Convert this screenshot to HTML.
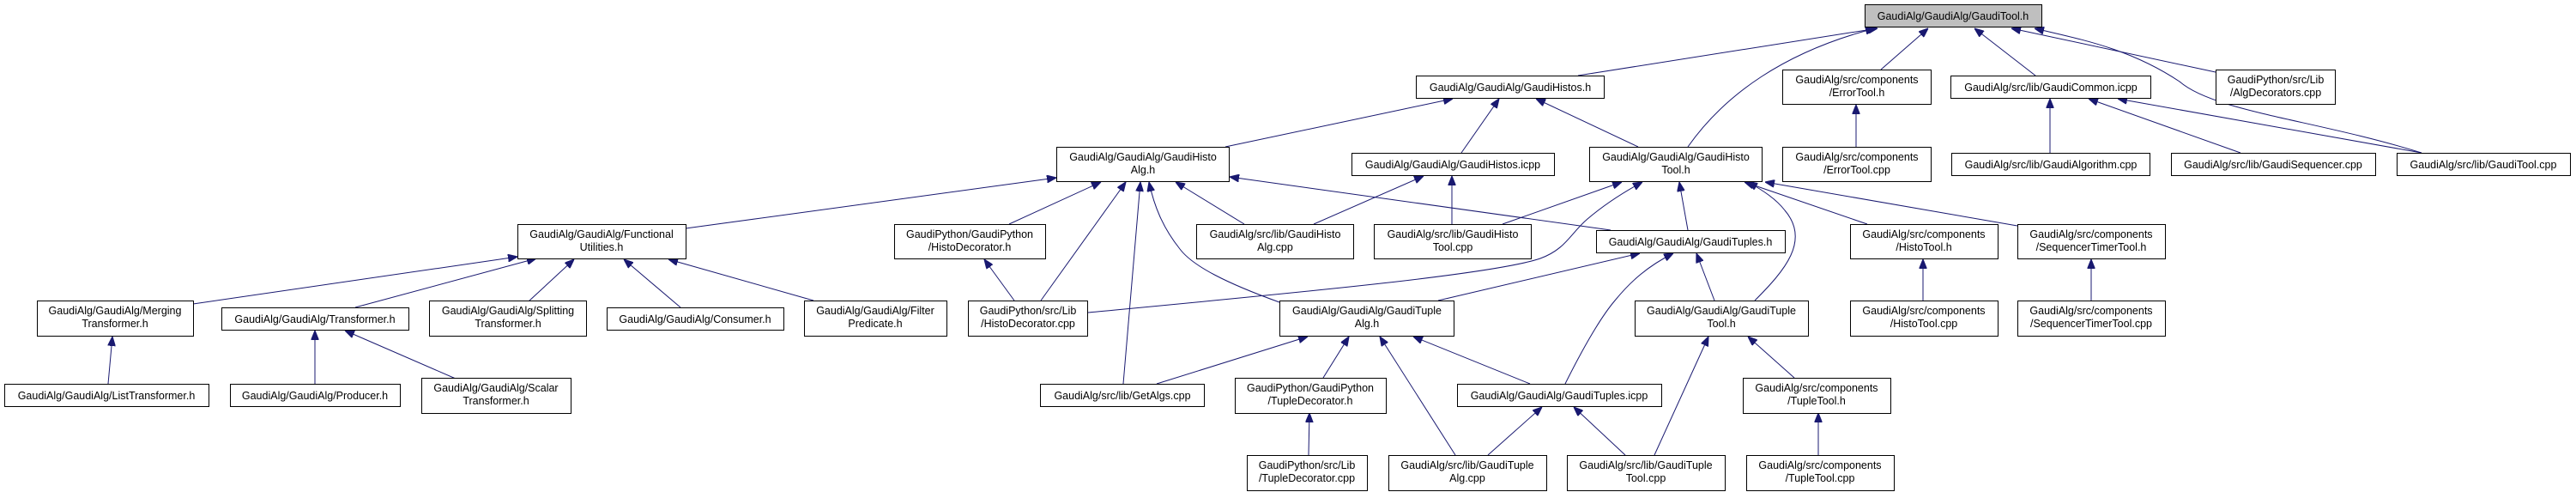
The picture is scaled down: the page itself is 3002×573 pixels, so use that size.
<!DOCTYPE html>
<html><head><meta charset="utf-8"><style>html,body{margin:0;padding:0;background:#fff}svg{display:block}</style></head>
<body>
<svg width="3002" height="573" viewBox="0 0 3002 573" xmlns="http://www.w3.org/2000/svg" font-family="Liberation Sans, sans-serif" font-size="12.5">
<defs><marker id="a" viewBox="0 0 10 8" refX="10" refY="4" markerWidth="11" markerHeight="9" orient="auto" markerUnits="userSpaceOnUse"><path d="M0,0 L10,4 L0,8 z" fill="#191970" stroke="#191970"/></marker></defs>
<g fill="none" stroke="#191970" stroke-width="1" marker-end="url(#a)">
<path d="M1839,88 L2188,33"/>
<path d="M1967,171 C2010,110 2080,60 2185,33"/>
<path d="M2192,81 L2247,33"/>
<path d="M2372,88 L2301,33"/>
<path d="M2582,84 L2344,33"/>
<path d="M2822,178 C2700,140 2580,130 2540,95 C2480,55 2420,45 2371,33"/>
<path d="M1428,171 L1693,115"/>
<path d="M1703,178 L1747,115"/>
<path d="M1909,171 L1790,115"/>
<path d="M2163,171 L2163,122"/>
<path d="M2389,178 L2389,115"/>
<path d="M2611,178 L2434,115"/>
<path d="M2822,178 L2468,115"/>
<path d="M799,266 L1231,207"/>
<path d="M1176,261 L1283,212"/>
<path d="M1213,350 L1312,212"/>
<path d="M1309,447 L1329,212"/>
<path d="M1491,352 C1430,330 1390,310 1375,290 C1355,265 1345,240 1339,212"/>
<path d="M1450,261 L1370,212"/>
<path d="M1877,268 L1433,206"/>
<path d="M1531,261 L1659,205"/>
<path d="M1692,261 L1692,205"/>
<path d="M1751,261 L1890,212"/>
<path d="M1268,364 C1500,342 1740,320 1795,301 C1825,290 1830,272 1850,255 C1870,238 1890,225 1914,212"/>
<path d="M1967,268 L1957,212"/>
<path d="M2045,350 C2080,315 2110,280 2080,245 C2070,232 2055,222 2037,212"/>
<path d="M2176,261 L2033,212"/>
<path d="M2351,263 L2057,212"/>
<path d="M225,354 L603,299"/>
<path d="M414,358 L625,301"/>
<path d="M616,351 L669,302"/>
<path d="M793,358 L727,302"/>
<path d="M948,350 L779,302"/>
<path d="M126,447 L131,392"/>
<path d="M367,447 L367,385"/>
<path d="M531,441 L402,385"/>
<path d="M1182,350 L1147,302"/>
<path d="M1676,350 L1911,295"/>
<path d="M1824,447 C1845,405 1865,370 1882,350 C1900,328 1920,310 1950,295"/>
<path d="M1998,350 L1977,295"/>
<path d="M2241,350 L2241,302"/>
<path d="M2437,350 L2437,302"/>
<path d="M1348,447 L1524,392"/>
<path d="M1542,440 L1572,392"/>
<path d="M1696,530 L1608,392"/>
<path d="M1783,447 L1647,392"/>
<path d="M1928,530 L1991,392"/>
<path d="M2091,440 L2037,392"/>
<path d="M1525,530 L1526,481"/>
<path d="M1734,530 L1797,474"/>
<path d="M1894,530 L1834,474"/>
<path d="M2119,530 L2119,481"/>
</g>
<g stroke="#000" stroke-width="1" fill="#fff">
<rect x="2173.5" y="5.5" width="206" height="26" fill="#bfbfbf"/>
<rect x="1650.5" y="88.5" width="219" height="26"/>
<rect x="2077.5" y="81.5" width="173" height="40"/>
<rect x="2273.5" y="88.5" width="233" height="26"/>
<rect x="2582.5" y="81.5" width="139" height="40"/>
<rect x="1231.5" y="171.5" width="201" height="40"/>
<rect x="1575.5" y="178.5" width="236" height="26"/>
<rect x="1852.5" y="171.5" width="201" height="40"/>
<rect x="2077.5" y="171.5" width="173" height="40"/>
<rect x="2274.5" y="178.5" width="231" height="26"/>
<rect x="2530.5" y="178.5" width="238" height="26"/>
<rect x="2793.5" y="178.5" width="202" height="26"/>
<rect x="603.5" y="261.5" width="196" height="40"/>
<rect x="1042.5" y="261.5" width="176" height="40"/>
<rect x="1394.5" y="261.5" width="183" height="40"/>
<rect x="1601.5" y="261.5" width="183" height="40"/>
<rect x="1860.5" y="268.5" width="220" height="26"/>
<rect x="2156.5" y="261.5" width="172" height="40"/>
<rect x="2351.5" y="261.5" width="172" height="40"/>
<rect x="43.5" y="350.5" width="182" height="41"/>
<rect x="258.5" y="358.5" width="218" height="26"/>
<rect x="500.5" y="350.5" width="183" height="41"/>
<rect x="707.5" y="358.5" width="206" height="26"/>
<rect x="937.5" y="350.5" width="166" height="41"/>
<rect x="1128.5" y="350.5" width="139" height="41"/>
<rect x="1491.5" y="350.5" width="203" height="41"/>
<rect x="1905.5" y="350.5" width="202" height="41"/>
<rect x="2156.5" y="350.5" width="172" height="41"/>
<rect x="2351.5" y="350.5" width="172" height="41"/>
<rect x="5.5" y="447.5" width="238" height="26"/>
<rect x="268.5" y="447.5" width="198" height="26"/>
<rect x="491.5" y="440.5" width="174" height="41"/>
<rect x="1212.5" y="447.5" width="191" height="26"/>
<rect x="1439.5" y="440.5" width="176" height="41"/>
<rect x="1698.5" y="447.5" width="238" height="26"/>
<rect x="2031.5" y="440.5" width="172" height="41"/>
<rect x="1453.5" y="530.5" width="140" height="41"/>
<rect x="1618.5" y="530.5" width="184" height="41"/>
<rect x="1826.5" y="530.5" width="184" height="41"/>
<rect x="2035.5" y="530.5" width="172" height="41"/>
</g>
<g fill="#000" text-anchor="middle">
<text x="2276" y="23">GaudiAlg/GaudiAlg/GaudiTool.h</text>
<text x="1760" y="106">GaudiAlg/GaudiAlg/GaudiHistos.h</text>
<text x="2164" y="97">GaudiAlg/src/components</text><text x="2164" y="112">/ErrorTool.h</text>
<text x="2390" y="106">GaudiAlg/src/lib/GaudiCommon.icpp</text>
<text x="2652" y="97">GaudiPython/src/Lib</text><text x="2652" y="112">/AlgDecorators.cpp</text>
<text x="1332" y="187">GaudiAlg/GaudiAlg/GaudiHisto</text><text x="1332" y="202">Alg.h</text>
<text x="1693" y="196">GaudiAlg/GaudiAlg/GaudiHistos.icpp</text>
<text x="1953" y="187">GaudiAlg/GaudiAlg/GaudiHisto</text><text x="1953" y="202">Tool.h</text>
<text x="2164" y="187">GaudiAlg/src/components</text><text x="2164" y="202">/ErrorTool.cpp</text>
<text x="2390" y="196">GaudiAlg/src/lib/GaudiAlgorithm.cpp</text>
<text x="2649" y="196">GaudiAlg/src/lib/GaudiSequencer.cpp</text>
<text x="2894" y="196">GaudiAlg/src/lib/GaudiTool.cpp</text>
<text x="701" y="277">GaudiAlg/GaudiAlg/Functional</text><text x="701" y="292">Utilities.h</text>
<text x="1130" y="277">GaudiPython/GaudiPython</text><text x="1130" y="292">/HistoDecorator.h</text>
<text x="1486" y="277">GaudiAlg/src/lib/GaudiHisto</text><text x="1486" y="292">Alg.cpp</text>
<text x="1693" y="277">GaudiAlg/src/lib/GaudiHisto</text><text x="1693" y="292">Tool.cpp</text>
<text x="1970" y="286">GaudiAlg/GaudiAlg/GaudiTuples.h</text>
<text x="2242" y="277">GaudiAlg/src/components</text><text x="2242" y="292">/HistoTool.h</text>
<text x="2437" y="277">GaudiAlg/src/components</text><text x="2437" y="292">/SequencerTimerTool.h</text>
<text x="134" y="366">GaudiAlg/GaudiAlg/Merging</text><text x="134" y="381">Transformer.h</text>
<text x="367" y="376">GaudiAlg/GaudiAlg/Transformer.h</text>
<text x="592" y="366">GaudiAlg/GaudiAlg/Splitting</text><text x="592" y="381">Transformer.h</text>
<text x="810" y="376">GaudiAlg/GaudiAlg/Consumer.h</text>
<text x="1020" y="366">GaudiAlg/GaudiAlg/Filter</text><text x="1020" y="381">Predicate.h</text>
<text x="1198" y="366">GaudiPython/src/Lib</text><text x="1198" y="381">/HistoDecorator.cpp</text>
<text x="1593" y="366">GaudiAlg/GaudiAlg/GaudiTuple</text><text x="1593" y="381">Alg.h</text>
<text x="2006" y="366">GaudiAlg/GaudiAlg/GaudiTuple</text><text x="2006" y="381">Tool.h</text>
<text x="2242" y="366">GaudiAlg/src/components</text><text x="2242" y="381">/HistoTool.cpp</text>
<text x="2437" y="366">GaudiAlg/src/components</text><text x="2437" y="381">/SequencerTimerTool.cpp</text>
<text x="124" y="465">GaudiAlg/GaudiAlg/ListTransformer.h</text>
<text x="367" y="465">GaudiAlg/GaudiAlg/Producer.h</text>
<text x="578" y="456">GaudiAlg/GaudiAlg/Scalar</text><text x="578" y="471">Transformer.h</text>
<text x="1308" y="465">GaudiAlg/src/lib/GetAlgs.cpp</text>
<text x="1527" y="456">GaudiPython/GaudiPython</text><text x="1527" y="471">/TupleDecorator.h</text>
<text x="1817" y="465">GaudiAlg/GaudiAlg/GaudiTuples.icpp</text>
<text x="2117" y="456">GaudiAlg/src/components</text><text x="2117" y="471">/TupleTool.h</text>
<text x="1523" y="546">GaudiPython/src/Lib</text><text x="1523" y="561">/TupleDecorator.cpp</text>
<text x="1710" y="546">GaudiAlg/src/lib/GaudiTuple</text><text x="1710" y="561">Alg.cpp</text>
<text x="1918" y="546">GaudiAlg/src/lib/GaudiTuple</text><text x="1918" y="561">Tool.cpp</text>
<text x="2121" y="546">GaudiAlg/src/components</text><text x="2121" y="561">/TupleTool.cpp</text>
</g>
</svg>
</body></html>
